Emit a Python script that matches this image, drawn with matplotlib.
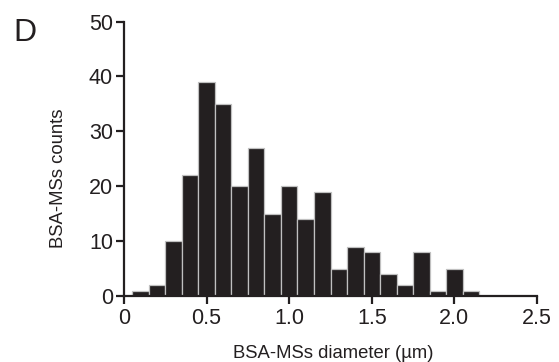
import numpy as np
import matplotlib
matplotlib.use("Agg")
import matplotlib.pyplot as plt

plt.rcParams['font.family'] = ['Liberation Sans', 'DejaVu Sans']

# histogram bins (diameter in um, bin centres) and counts
diametro = [0.1, 0.2, 0.3, 0.4, 0.5, 0.6, 0.7, 0.8, 0.9, 1.0, 1.1,
            1.2, 1.3, 1.4, 1.5, 1.6, 1.7, 1.8, 1.9, 2.0, 2.1]
conteo = [1, 2, 10, 22, 39, 35, 20, 27, 15, 20, 14,
          19, 5, 9, 8, 4, 2, 8, 1, 5, 1]
xticks = [0, 0.5, 1.0, 1.5, 2.0, 2.5]
xticklabels = ['0', '0.5', '1.0', '1.5', '2.0', '2.5']
yticks = [0, 10, 20, 30, 40, 50]

W, H = 559, 362
tinta = '#231f20'

fig = plt.figure(figsize=(W / 100, H / 100), dpi=100)
# axes box in pixels: x 124 -> 537, y 21.5 -> 296
ax = fig.add_axes([124 / W, 1 - 296 / H, (537 - 124) / W, (296 - 21.5) / H])

ax.bar(diametro, conteo, width=0.1, color=tinta, edgecolor='#c0c0c0',
       linewidth=0.9, align='center', zorder=2)

ax.set_xlim(0, 2.5)
ax.set_ylim(0, 50)
ax.set_xticks(xticks)
ax.set_xticklabels(xticklabels)
ax.set_yticks(yticks)

for s in ['top', 'right']:
    ax.spines[s].set_visible(False)
for s in ['left', 'bottom']:
    ax.spines[s].set_linewidth(1.6)
    ax.spines[s].set_color(tinta)
ax.tick_params(axis='both', direction='out', length=6, width=1.6,
               labelsize=15.5, colors=tinta)
ax.tick_params(axis='x', pad=3)
ax.tick_params(axis='y', pad=2)

# axis titles
fig.text(333 / W, 1 - 358.3 / H, 'BSA-MSs diameter (µm)', fontsize=13.3,
         color=tinta, ha='center', va='baseline')
fig.text(63 / W, 1 - 178 / H, 'BSA-MSs counts', fontsize=13.3, color=tinta,
         rotation=90, ha='center', va='baseline', rotation_mode='anchor')

# panel letter
fig.text(13.5 / W, 1 - 40.7 / H, 'D', fontsize=23, color=tinta,
         ha='left', va='baseline')

fig.savefig('out.png', dpi=100)
